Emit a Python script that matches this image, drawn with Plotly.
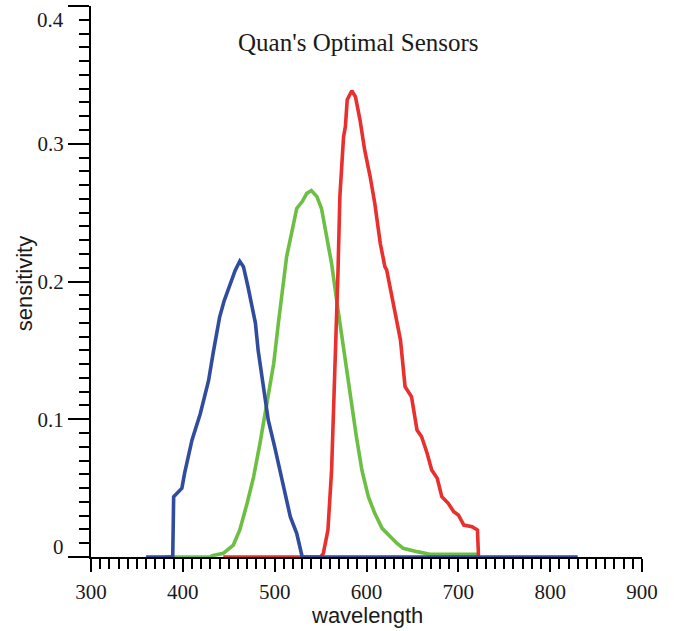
import plotly.graph_objects as go

# ---- data ----
blue_wl = [360, 389, 390, 399, 402, 410, 419, 428, 433, 440, 445, 450, 457, 462, 466,
           471, 479, 482, 488, 493, 500, 510, 517, 524, 530, 830]
blue_s = [0, 0, 0.0438, 0.050, 0.061, 0.085, 0.104, 0.128, 0.148, 0.174, 0.186, 0.196,
          0.208, 0.2147, 0.2108, 0.196, 0.170, 0.150, 0.121, 0.0995, 0.080,
          0.0486, 0.0293, 0.0172, 0, 0]

green_wl = [380, 430, 432, 444, 455, 462, 470, 477, 484, 491, 499, 504, 508, 513,
            519, 524, 530, 535, 540, 546, 551, 557, 562, 568, 573, 579, 584, 589,
            595, 602, 609, 617, 626, 633, 640, 651, 655, 669, 722]
green_s = [0, 0, 0.001, 0.0027, 0.0087, 0.0196, 0.039, 0.058, 0.0825, 0.1115,
           0.1406, 0.1696, 0.189, 0.218, 0.237, 0.253, 0.258, 0.264, 0.266,
           0.2616, 0.253, 0.2325, 0.213, 0.184, 0.160, 0.131, 0.1115, 0.0873,
           0.063, 0.0438, 0.0317, 0.0208, 0.0147, 0.010, 0.0063, 0.005, 0.0039,
           0.002, 0.002]

red_wl = [444, 550, 553, 558, 562, 566, 569, 571, 575, 577, 579, 584, 588, 593,
          598, 604, 609, 615, 620, 622, 629, 637, 642, 649, 655, 660, 666, 671,
          677, 682, 689, 695, 700, 706, 715, 720.8, 722]
red_s = [0, 0, 0.0027, 0.0196, 0.063, 0.136, 0.208, 0.2616, 0.305, 0.3124, 0.332,
         0.3385, 0.334, 0.317, 0.2955, 0.276, 0.2568, 0.2277, 0.2108, 0.2083,
         0.186, 0.1575, 0.1236, 0.1164, 0.0922, 0.0873, 0.0753, 0.0632, 0.0571,
         0.0438, 0.039, 0.0329, 0.0305, 0.0232, 0.022, 0.0196, 0]

x_ticks = [300, 400, 500, 600, 700, 800, 900]
y_ticks = [0, 0.1, 0.2, 0.3, 0.4]
y_ticktext = ["", "0.1", "0.2", "0.3", ""]

title_text = "Quan's Optimal Sensors"
x_title = "wavelength"
y_title = "sensitivity"

SERIF = "Liberation Serif, Times New Roman, serif"
SANS = "Liberation Sans, Arial, sans-serif"
TXT = "#1a1a1a"

fig = go.Figure()
fig.add_trace(go.Scatter(x=green_wl, y=green_s, mode="lines",
                         line=dict(color="#6cbf43", width=3.6), showlegend=False))
fig.add_trace(go.Scatter(x=red_wl, y=red_s, mode="lines",
                         line=dict(color="#e8302e", width=3.6), showlegend=False))
fig.add_trace(go.Scatter(x=blue_wl, y=blue_s, mode="lines",
                         line=dict(color="#2f4c9e", width=3.6), showlegend=False))

fig.update_layout(
    width=674, height=631,
    margin=dict(l=91, r=32, t=6, b=74),
    paper_bgcolor="white", plot_bgcolor="white",
    showlegend=False,
    xaxis=dict(
        range=[300, 900], tickvals=x_ticks, ticks="outside", ticklen=13,
        tickwidth=2, tickcolor="black", showline=True, linewidth=2,
        linecolor="black", showgrid=False, zeroline=False,
        tickfont=dict(family=SERIF, size=21, color=TXT),
        ticklabelstandoff=2,
        minor=dict(dtick=10, tick0=300, ticks="outside", ticklen=10,
                   tickwidth=2, tickcolor="black", showgrid=False),
        layer="below traces",
    ),
    yaxis=dict(
        range=[0, 0.4], tickvals=y_ticks, ticktext=y_ticktext, ticks="outside",
        ticklen=21, tickwidth=2, tickcolor="black", showline=True, linewidth=2,
        linecolor="black", showgrid=False, zeroline=False,
        tickfont=dict(family=SERIF, size=21, color=TXT),
        minor=dict(dtick=0.01, tick0=0, ticks="outside", ticklen=10,
                   tickwidth=2, tickcolor="black", showgrid=False),
        layer="below traces",
    ),
    annotations=[
        dict(text=title_text, xref="paper", yref="paper", x=0.4846, y=0.933,
             showarrow=False, xanchor="center", yanchor="middle",
             font=dict(family=SERIF, size=25, color=TXT)),
        dict(text=x_title, xref="paper", yref="paper", x=0.501, y=-0.1053,
             showarrow=False, xanchor="center", yanchor="middle",
             font=dict(family=SANS, size=22, color=TXT)),
        dict(text=y_title, xref="paper", yref="paper", x=-0.1216, y=0.497,
             showarrow=False, xanchor="center", yanchor="middle", textangle=-90,
             font=dict(family=SANS, size=22, color=TXT)),
        dict(text="0", xref="paper", yref="y", x=-0.0454, y=0, yshift=10,
             showarrow=False, xanchor="right", yanchor="middle",
             font=dict(family=SERIF, size=21, color=TXT)),
        dict(text="0.4", xref="paper", yref="y", x=-0.0454, y=0.4, yshift=-14,
             showarrow=False, xanchor="right", yanchor="middle",
             font=dict(family=SERIF, size=21, color=TXT)),
    ],
)

fig.write_html("out.html")
